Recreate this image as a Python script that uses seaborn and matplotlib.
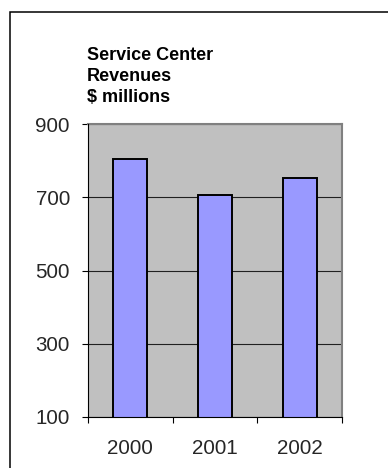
import matplotlib
matplotlib.use("Agg")
import matplotlib.pyplot as plt
import seaborn as sns
import pandas as pd
from matplotlib.patches import Rectangle

years = ["2000", "2001", "2002"]
revenues = [804, 705, 752]
y_ticks = [100, 300, 500, 700, 900]
title_lines = ["Service Center", "Revenues", "$ millions"]

sns.set_theme(style="white")
plt.rcParams["font.family"] = ["Liberation Sans", "DejaVu Sans"]

df = pd.DataFrame({"year": years, "revenue": revenues})

W, H = 388, 468
fig = plt.figure(figsize=(W / 100, H / 100), dpi=100)
fig.patch.set_facecolor("white")

ax = fig.add_axes([88 / W, 1 - 417 / H, (342 - 88) / W, (417 - 124) / H])
ax.set_facecolor("#C0C0C0")

sns.barplot(data=df, x="year", y="revenue", ax=ax, color="#9999FF",
            width=0.4, edgecolor="black", linewidth=1.4, saturation=1,
            zorder=3)

ax.set_ylim(100, 900)
ax.set_xlim(-0.5, 2.5)
ax.set_yticks(y_ticks)
ax.set_yticklabels([str(v) for v in y_ticks], fontsize=14.8)
ax.yaxis.grid(True, color="#202020", linewidth=0.8, zorder=1)
ax.set_axisbelow(True)

# category boundaries carry the tick marks, labels sit at the centres
ax.set_xticks([-0.5, 0.5, 1.5, 2.5])
ax.set_xticklabels([])
ax.set_xticks([0, 1, 2], minor=True)
ax.set_xticklabels(years, minor=True, fontsize=14.8)
ax.tick_params(axis="x", which="major", direction="out", length=4.5,
               width=0.8, color="black", bottom=True)
ax.tick_params(axis="x", which="minor", length=0, pad=16)
ax.tick_params(axis="y", direction="out", length=4, width=0.8,
               color="black", left=True, pad=9)
ax.set_xlabel("")
ax.set_ylabel("")

for side in ["top", "right"]:
    ax.spines[side].set_color("#808080")
    ax.spines[side].set_linewidth(1.5)
for side in ["left", "bottom"]:
    ax.spines[side].set_color("black")
    ax.spines[side].set_linewidth(0.8)
    ax.spines[side].set_zorder(4)

fig.text(87 / W, 1 - 102 / H, "\n".join(title_lines), fontsize=13,
         fontweight="bold", ha="left", va="baseline", linespacing=1.3,
         color="black")

# chart frame, open past the right and bottom edges
fig.patches.append(Rectangle((9.5 / W, -0.1), 1.2, 1 - 11.5 / H + 0.1,
                             transform=fig.transFigure, fill=False,
                             edgecolor="black", linewidth=1.1))

fig.savefig("out.png", dpi=100)
